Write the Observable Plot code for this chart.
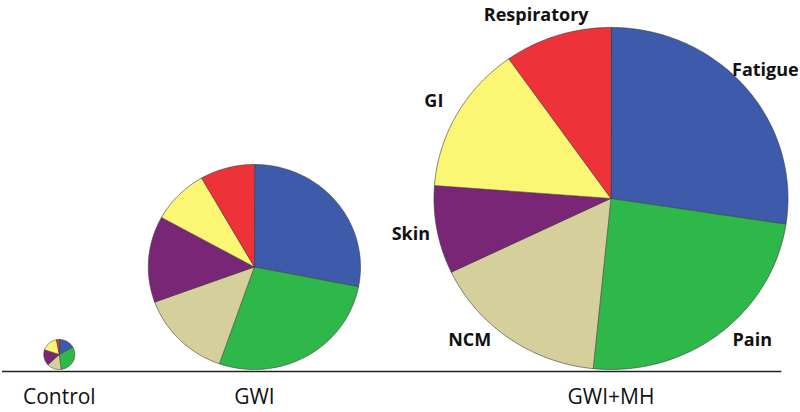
<!DOCTYPE html>
<html>
<head>
<meta charset="utf-8">
<script src="https://cdn.jsdelivr.net/npm/d3@7"></script>
<script src="https://cdn.jsdelivr.net/npm/@observablehq/plot@0.6"></script>
<style>
  html, body { margin: 0; padding: 0; background: #fff; }
  #chart svg { display: block; }
</style>
</head>
<body>
<div id="chart"></div>
<script>
// ---- data ----
const groups = ["Control", "GWI", "GWI+MH"];
const symptoms = ["Fatigue", "Pain", "NCM", "Skin", "GI", "Respiratory"];
// share of each symptom domain (%), clockwise from 12 o'clock
const controlShares = [17, 31, 15, 17, 17, 3];
const gwiShares = [28.1, 27.3, 14.1, 13.6, 8.7, 8.3];
const gwiMhShares = [27.4, 24.2, 16.3, 8.3, 14.0, 9.8];
// relative overall burden (pie area), Control = 1
const burden = [1, 46.7, 130];

// ---- styling / layout options ----
const palette = ["#3e5aaa", "#2eb84a", "#d4cf9b", "#7a2677", "#fbf673", "#ee3239"];
const STRETCH = 1.035;      // horizontal aspect of the original picture
const GAP = 71;             // space between pies
const LEFT = 41.8;          // left edge of first pie
const LIFT = 2;             // pies sit just above the baseline

const shares = [controlShares, gwiShares, gwiMhShares];
const radius = d3.scaleSqrt().domain([0, 1]).range([0, 15]);

const pies = [];
groups.forEach((g, i) => {
  const r = radius(burden[i]);
  const prev = pies[i - 1];
  const cx = prev ? prev.cx + prev.r + GAP + r : LEFT + r;
  pies.push({group: g, r, cx, cy: r + LIFT, values: shares[i]});
});

const pieGen = d3.pie().sort(null).value(d => d);
const pts = [];
const sliceLabels = [];
pies.forEach((p, pi) => {
  pieGen(p.values).forEach((a, j) => {
    const id = p.group + "-" + j;
    pts.push({id, symptom: symptoms[j], x: p.cx, y: p.cy});
    const n = Math.max(2, Math.ceil((a.endAngle - a.startAngle) / (Math.PI / 180)));
    for (let k = 0; k <= n; k++) {
      const t = a.startAngle + (a.endAngle - a.startAngle) * k / n;
      pts.push({id, symptom: symptoms[j], x: p.cx + p.r * Math.sin(t), y: p.cy + p.r * Math.cos(t)});
    }
    if (pi === pies.length - 1) {
      const mid = (a.startAngle + a.endAngle) / 2;
      const dist = p.r * 1.15;
      let dx = dist * Math.sin(mid), dy = dist * Math.cos(mid);
      const lo = 0.72 * dist, hi = 0.93 * dist;
      if (dy < -lo) { dy = -lo; dx = Math.sign(dx) * Math.sqrt(dist * dist - dy * dy); }
      if (dy > hi) { dy = hi; dx = Math.sign(dx) * Math.sqrt(dist * dist - dy * dy); }
      sliceLabels.push({text: symptoms[j], x: p.cx + dx, y: p.cy + dy});
    }
  });
});

const last = pies[pies.length - 1];

const chart = Plot.plot({
  width: 800,
  height: 412,
  margin: 0,
  style: {fontFamily: "'Open Sans', sans-serif", background: "#fff", overflow: "visible"},
  x: {domain: [0, 800 / STRETCH], axis: null},
  y: {domain: [-41, 371], axis: null},
  color: {domain: symptoms, range: palette},
  marks: [
    Plot.line(pts, {x: "x", y: "y", z: "id", fill: "symptom", stroke: "#3a3a3a", strokeWidth: 0.6, curve: "linear-closed"}),
    Plot.ruleY([0], {x1: 2 / STRETCH, x2: last.cx + last.r * 0.965, stroke: "#222", strokeWidth: 1.6}),
    Plot.text(pies, {x: "cx", y: 0, text: "group", dy: 26, fontSize: 21, fill: "#111"}),
    Plot.text(sliceLabels, {x: "x", y: "y", text: "text", fontSize: 18, fontWeight: "bold", fill: "#111"})
  ]
});
document.getElementById("chart").appendChild(chart);
</script>
</body>
</html>
